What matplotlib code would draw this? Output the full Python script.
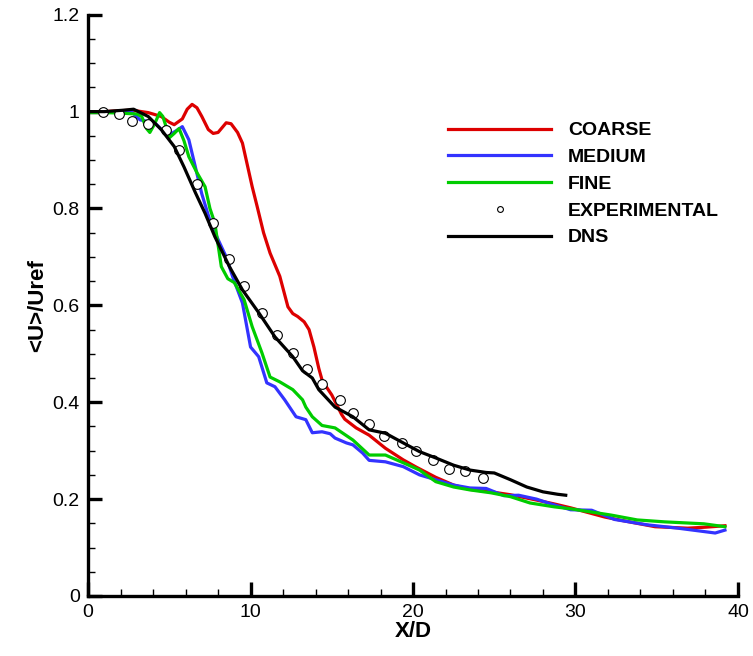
import matplotlib
matplotlib.use("Agg")
import matplotlib.pyplot as plt
from matplotlib.ticker import MultipleLocator

plt.rcParams['font.family'] = ['Liberation Sans', 'DejaVu Sans']

coarse_x = [0, 1, 2, 2.7, 3.7, 4.5, 5.0, 5.3, 5.8, 6.1, 6.4, 6.7, 7.0, 7.4, 7.7, 8.0, 8.5, 8.8,
            9.2, 9.5, 9.8, 10.1, 10.4, 10.8, 11.2, 11.8, 12.3, 12.6, 12.9, 13.3, 13.6, 13.9,
            14.2, 14.4, 14.7, 15.0, 15.3, 15.6, 15.8, 16.5, 17.3, 18.3, 19.4, 20.2, 21.4,
            22.5, 23.5, 24.8, 26.0, 27.6, 28.7, 29.7, 31.8, 33.0, 34.9, 36.9, 38.0, 39.2]
coarse_y = [1.0, 1.0, 1.002, 1.003, 0.998, 0.99, 0.978, 0.973, 0.985, 1.005, 1.015, 1.008,
            0.99, 0.963, 0.955, 0.957, 0.977, 0.975, 0.957, 0.935, 0.89, 0.845, 0.805, 0.75,
            0.708, 0.66, 0.597, 0.583, 0.577, 0.566, 0.55, 0.514, 0.47, 0.446, 0.43, 0.415,
            0.395, 0.375, 0.365, 0.347, 0.332, 0.305, 0.281, 0.266, 0.245, 0.229, 0.22,
            0.215, 0.209, 0.198, 0.19, 0.182, 0.163, 0.155, 0.143, 0.14, 0.142, 0.145]

medium_x = [0, 1, 2, 2.6, 3.2, 4.1, 4.9, 5.4, 5.8, 6.2, 6.6, 7.0, 7.5, 8.0, 8.5, 8.9, 9.5,
            10.0, 10.5, 11.0, 11.5, 12.1, 12.8, 13.4, 13.8, 14.4, 14.9, 15.2, 15.9, 16.3,
            16.9, 17.3, 18.3, 19.4, 20.4, 21.4, 22.5, 23.5, 24.5, 25.6, 26.5, 27.6, 28.5,
            29.7, 31.0, 32.4, 34.4, 36.3, 38.6, 39.2]
medium_y = [1.0, 0.998, 1.0, 1.002, 0.983, 0.977, 0.95, 0.96, 0.969, 0.942, 0.886, 0.83,
            0.775, 0.736, 0.70, 0.659, 0.605, 0.514, 0.494, 0.44, 0.432, 0.405, 0.37, 0.364,
            0.337, 0.339, 0.335, 0.326, 0.316, 0.312, 0.295, 0.28, 0.277, 0.267, 0.25, 0.24,
            0.229, 0.223, 0.222, 0.207, 0.208, 0.2, 0.19, 0.178, 0.177, 0.158, 0.147, 0.14,
            0.13, 0.136]

fine_x = [0, 1, 2, 3.0, 3.3, 3.6, 3.8, 4.1, 4.4, 4.6, 4.8, 5.0, 5.3, 5.6, 5.9, 6.2, 6.7,
          7.2, 7.5, 7.8, 8.2, 8.6, 9.0, 9.6, 10.1, 10.7, 11.2, 11.8, 12.6, 13.2, 13.4, 13.8,
          14.4, 15.2, 16.3, 17.3, 18.3, 19.4, 20.4, 21.4, 22.5, 23.5, 24.8, 26.0, 27.2,
          28.7, 29.7, 32.2, 33.8, 35.5, 36.7, 37.9, 39.2]
fine_y = [0.998, 0.998, 0.997, 0.995, 0.99, 0.965, 0.957, 0.975, 0.998, 0.99, 0.969, 0.946,
          0.955, 0.965, 0.94, 0.907, 0.874, 0.845, 0.80, 0.77, 0.68, 0.655, 0.647, 0.612,
          0.556, 0.502, 0.452, 0.442, 0.426, 0.405, 0.39, 0.37, 0.352, 0.347, 0.322, 0.291,
          0.291, 0.275, 0.26, 0.236, 0.225, 0.219, 0.213, 0.205, 0.192, 0.184, 0.18, 0.167,
          0.157, 0.153, 0.151, 0.149, 0.143]

exp_x = [0.9, 1.9, 2.7, 3.7, 4.8, 5.6, 6.7, 7.7, 8.7, 9.6, 10.7, 11.6, 12.6, 13.5, 14.4,
         15.5, 16.3, 17.3, 18.2, 19.3, 20.2, 21.2, 22.2, 23.2, 24.3]
exp_y = [1.0, 0.995, 0.98, 0.975, 0.963, 0.92, 0.85, 0.77, 0.695, 0.64, 0.585, 0.538,
         0.502, 0.468, 0.438, 0.405, 0.378, 0.355, 0.33, 0.316, 0.3, 0.28, 0.263, 0.258,
         0.244]

dns_x = [0, 1, 2.2, 2.8, 3.7, 4.5, 5.3, 5.9, 6.6, 7.2, 7.8, 8.7, 9.5, 10.5, 11.5, 12.6,
         13.2, 13.8, 14.2, 15.2, 16.3, 17.3, 18.3, 19.4, 20.4, 21.4, 22.5, 23.5, 24.5,
         25.0, 26.0, 27.0, 28.0, 28.9, 29.4]
dns_y = [1.0, 1.0, 1.003, 1.005, 0.99, 0.963, 0.928, 0.886, 0.833, 0.79, 0.742, 0.68,
         0.632, 0.585, 0.535, 0.494, 0.465, 0.45, 0.426, 0.39, 0.37, 0.343, 0.336, 0.316,
         0.298, 0.285, 0.27, 0.26, 0.255, 0.254, 0.24, 0.225, 0.215, 0.21, 0.208]

labels = ["COARSE", "MEDIUM", "FINE", "EXPERIMENTAL", "DNS"]

fig = plt.figure(figsize=(7.53, 6.56), dpi=100)
ax = fig.add_axes([0.117, 0.0915, 0.863, 0.886])

lw = 2.3
ax.plot(coarse_x, coarse_y, color='#dd0000', lw=lw, label=labels[0])
ax.plot(medium_x, medium_y, color='#3333ff', lw=lw, label=labels[1])
ax.plot(fine_x, fine_y, color='#00cc00', lw=lw, label=labels[2])
ax.plot(exp_x, exp_y, linestyle='none', marker='o', markersize=7, markerfacecolor='white',
        markeredgecolor='black', markeredgewidth=0.8, label=labels[3])
ax.plot(dns_x, dns_y, color='black', lw=lw, label=labels[4])

ax.set_xlim(0, 40)
ax.set_ylim(0, 1.2)
ax.xaxis.set_major_locator(MultipleLocator(10))
ax.xaxis.set_minor_locator(MultipleLocator(2))
ax.yaxis.set_major_locator(MultipleLocator(0.2))
ax.yaxis.set_minor_locator(MultipleLocator(0.05))
ax.yaxis.set_major_formatter(plt.FuncFormatter(lambda v, p: f"{v:g}"))
ax.xaxis.set_major_formatter(plt.FuncFormatter(lambda v, p: f"{v:g}"))

for s in ['top', 'right']:
    ax.spines[s].set_visible(False)
for s in ['left', 'bottom']:
    ax.spines[s].set_linewidth(2.4)

ax.tick_params(which='major', direction='in', length=10, width=2.4, labelsize=14, pad=6)
ax.tick_params(which='minor', direction='in', length=5, width=1.0)

ax.set_xlabel("X/D", fontsize=16, fontweight='bold', labelpad=0)
ax.set_ylabel("<U>/Uref", fontsize=16, fontweight='bold', labelpad=3)

handles, hl = ax.get_legend_handles_labels()
leg = ax.legend(handles, hl, loc='upper left', bbox_to_anchor=(0.572, 0.841),
                bbox_transform=fig.transFigure, frameon=False, handlelength=5.3,
                handletextpad=0.85, labelspacing=0.47, markerscale=0.6,
                prop={'weight': 'bold', 'size': 14})

fig.savefig("out.png", dpi=100)
